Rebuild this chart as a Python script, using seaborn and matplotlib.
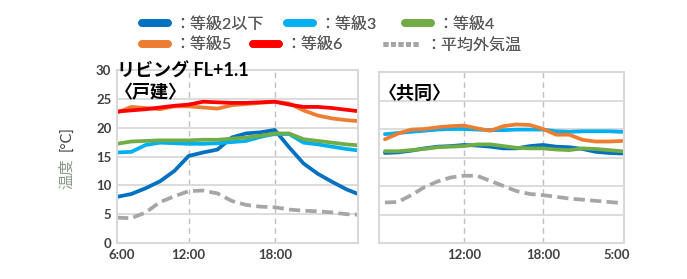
import matplotlib
matplotlib.use('Agg')
import matplotlib.pyplot as plt
import seaborn as sns
from matplotlib.lines import Line2D

sns.set_theme(style="white")
plt.rcParams['font.family'] = ['Lato', 'Noto Sans CJK JP', 'DejaVu Sans']
plt.rcParams['axes.unicode_minus'] = False

# --- data (hourly) ---
hours_house = list(range(7, 25))
house_lv2 = [8.0, 8.5, 9.5, 10.7, 12.5, 15.1, 15.7, 16.2, 18.3, 19.0, 19.2, 19.6, 16.6, 13.8, 12.0, 10.6, 9.3, 8.3]
house_lv3 = [15.7, 15.8, 17.0, 17.4, 17.3, 17.2, 17.2, 17.3, 17.5, 17.7, 18.4, 18.9, 18.9, 17.4, 17.1, 16.7, 16.3, 16.0]
house_lv4 = [17.2, 17.6, 17.7, 17.8, 17.8, 17.8, 17.9, 17.9, 18.1, 18.3, 18.6, 19.0, 19.0, 18.0, 17.7, 17.4, 17.1, 16.9]
house_lv5 = [22.6, 23.6, 23.4, 23.2, 23.7, 23.7, 23.5, 23.3, 23.9, 24.1, 24.3, 24.5, 24.2, 23.0, 22.1, 21.6, 21.3, 21.1]
house_lv6 = [22.8, 23.0, 23.2, 23.5, 23.8, 24.0, 24.5, 24.4, 24.3, 24.3, 24.4, 24.5, 24.0, 23.6, 23.6, 23.4, 23.1, 22.8]
house_out = [4.4, 4.3, 5.3, 7.1, 8.1, 9.0, 9.1, 8.6, 7.3, 6.6, 6.3, 6.2, 5.8, 5.6, 5.5, 5.3, 5.0, 4.9]

hours_apt = list(range(6, 25))
apt_lv2 = [15.8, 15.9, 16.2, 16.6, 16.9, 17.0, 17.2, 17.1, 16.9, 16.6, 16.6, 17.0, 17.2, 16.9, 16.8, 16.5, 16.0, 15.8, 15.7]
apt_lv3 = [19.1, 19.3, 19.5, 19.7, 19.9, 20.0, 20.0, 19.9, 19.8, 19.8, 19.9, 19.9, 19.9, 19.6, 19.5, 19.6, 19.6, 19.6, 19.5]
apt_lv4 = [16.1, 16.1, 16.3, 16.5, 16.8, 16.9, 17.0, 17.3, 17.3, 17.0, 16.7, 16.6, 16.6, 16.4, 16.3, 16.6, 16.5, 16.3, 16.1]
apt_lv5 = [18.2, 19.2, 19.9, 20.0, 20.3, 20.5, 20.6, 20.1, 19.7, 20.5, 20.8, 20.7, 20.0, 19.0, 19.0, 18.1, 17.8, 17.8, 17.9]
apt_lv6 = None  # no 等級6 series in the apartment panel
apt_out = [7.1, 7.2, 8.4, 9.8, 10.8, 11.5, 11.8, 11.8, 10.9, 10.0, 9.1, 8.6, 8.4, 8.1, 7.8, 7.6, 7.4, 7.2, 7.0]

series_labels = ['：等級2以下', '：等級3', '：等級4', '：等級5', '：等級6', '：平均外気温']
series_colors = ['#0070C0', '#00B0F0', '#70AD47', '#ED7D31', '#FF0000', '#A6A6A6']

y_ticks = [0, 5, 10, 15, 20, 25, 30]
house_xticks = [7.3, 12, 18]
house_xticklabels = ['6:00', '12:00', '18:00']
apt_xticks = [12, 18, 23.6]
apt_xticklabels = ['12:00', '18:00', '5:00']

LW = 2.7
GRID = '#D9D9D9'
TXT = '#404040'

fig = plt.figure(figsize=(6.87, 2.79), dpi=100)
ax1 = fig.add_axes([117 / 687, 36 / 279, 241 / 687, 173 / 279])
ax2 = fig.add_axes([379 / 687, 36 / 279, 245 / 687, 171 / 279])


def draw_panel(ax, hours, values, xlim, xticks, xticklabels):
    for vals, col in zip(values, series_colors):
        if vals is None:
            continue
        sns.lineplot(x=hours, y=vals, color=col, linewidth=LW, ax=ax, legend=False)
    # gray outdoor line is dashed
    ax.lines[-1].set_dashes((3.0, 1.4))
    ax.set_xlim(*xlim)
    ax.set_ylim(0, 30)
    ax.set_yticks(y_ticks)
    ax.set_xticks(xticks)
    ax.set_xticklabels(xticklabels)
    ax.grid(True, axis='y', color=GRID, linewidth=1.3)
    for xv in [12, 18]:
        ax.axvline(xv, color='#BFBFBF', linestyle=(0, (4, 3)), linewidth=1.0, zorder=0)
    for sp in ax.spines.values():
        sp.set_color(GRID)
        sp.set_linewidth(1.5)
    ax.set_xlabel('')
    ax.set_ylabel('')
    ax.tick_params(axis='both', length=0, labelsize=9.5, labelcolor=TXT, pad=4)
    for t in ax.get_xticklabels() + ax.get_yticklabels():
        t.set_fontweight('bold')


draw_panel(ax1, hours_house, [house_lv2, house_lv3, house_lv4, house_lv5, house_lv6, house_out],
           (7, 23.8), house_xticks, house_xticklabels)
draw_panel(ax2, hours_apt, [apt_lv2, apt_lv3, apt_lv4, apt_lv5, apt_lv6, apt_out],
           (5.55, 24.15), apt_xticks, apt_xticklabels)
ax2.set_yticklabels([])

# panel titles
ax1.text(0.0, 0.995, 'リビング FL+1.1', transform=ax1.transAxes, ha='left', va='center',
         fontsize=13, fontweight='bold', color='black')
ax1.text(-0.01, 0.87, '〈戸建〉', transform=ax1.transAxes, ha='left', va='center',
         fontsize=13, fontweight='bold', color='black')
ax2.text(0.0, 0.875, '〈共同〉', transform=ax2.transAxes, ha='left', va='center',
         fontsize=13, fontweight='bold', color='black')

# y label: "温度" in grey-green, "[°C]" dark
fig.text(67 / 687, 1 - 174 / 279, '温度', rotation=90, ha='center', va='center',
         fontsize=11, color='#8A9A8A')
fig.text(67 / 687, 1 - 139 / 279, '[°C]', rotation=90, ha='center', va='center',
         fontsize=10.5, color=TXT)

# legend: one small legend per entry, placed like the original
handles = []
for i, col in enumerate(series_colors):
    if i == 5:
        handles.append(Line2D([], [], color=col, linewidth=3.5, linestyle=(0, (1.0, 0.55))))
    else:
        handles.append(Line2D([], [], color=col, linewidth=5.5))

legend_pos = [(142, 24), (287, 24), (405, 24), (142, 45), (253, 45), (383, 45)]
for h, lab, (px, py) in zip(handles, series_labels, legend_pos):
    hl = 2.2 if lab.endswith('気温') else 1.6
    leg = fig.legend([h], [lab], frameon=False, fontsize=11.5, handlelength=hl,
                     handletextpad=0.45, borderpad=0, borderaxespad=0,
                     labelcolor='#595959', loc='center left',
                     bbox_to_anchor=(px / 687, 1 - py / 279))
    fig.add_artist(leg)

fig.savefig('out.png', dpi=100)
plt.close(fig)
